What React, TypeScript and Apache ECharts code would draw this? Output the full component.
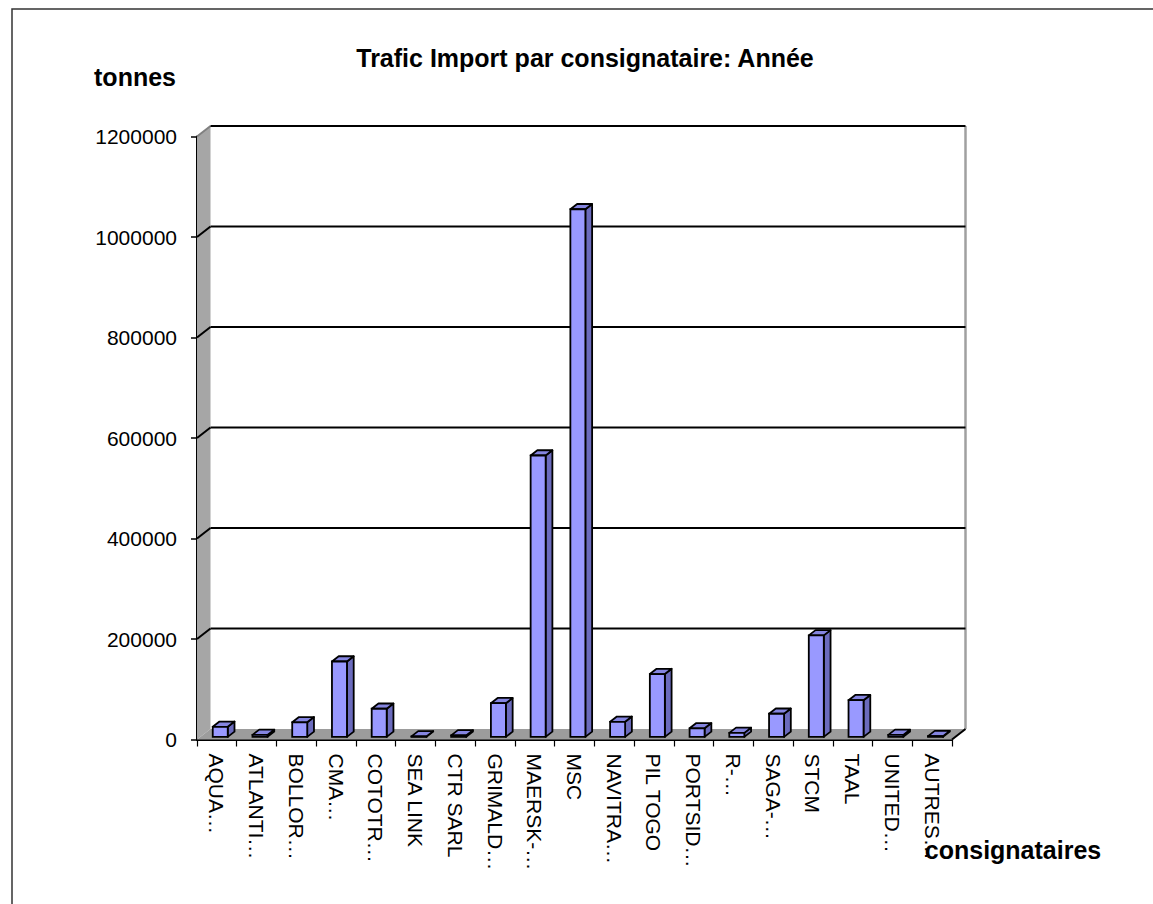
import React, { useEffect, useRef } from "react";
import * as echarts from "echarts";

const categories = [
  "AQUA…",
  "ATLANTI…",
  "BOLLOR…",
  "CMA…",
  "COTOTR…",
  "SEA LINK",
  "CTR SARL",
  "GRIMALD…",
  "MAERSK-…",
  "MSC",
  "NAVITRA…",
  "PIL TOGO",
  "PORTSID…",
  "R-…",
  "SAGA-…",
  "STCM",
  "TAAL",
  "UNITED…",
  "AUTRES…",
];

const values = [
  20000, 4000, 29000, 150000, 56000, 1000, 3000, 67000, 560000, 1050000,
  30000, 125000, 17000, 8000, 46000, 202000, 73000, 4000, 1500,
];

const yTicks = [0, 200000, 400000, 600000, 800000, 1000000, 1200000];

const TITLE = "Trafic Import par consignataire: Année";
const Y_NAME = "tonnes";
const X_NAME = "consignataires";

const DX = 13.5;
const DY = -10.5;

export default function App() {
  const ref = useRef<HTMLDivElement>(null);

  useEffect(() => {
    const chart = echarts.init(ref.current as HTMLDivElement, null, {
      renderer: "svg",
    });
    const font = "'Liberation Sans', Arial, sans-serif";
    const yMax = yTicks[yTicks.length - 1];

    const option: any = {
      animation: false,
      backgroundColor: "#ffffff",
      textStyle: { fontFamily: font },
      grid: { left: 197, top: 136.5, width: 755, height: 603 },
      xAxis: {
        type: "category",
        data: categories,
        boundaryGap: true,
        axisLine: { show: true, lineStyle: { color: "#000", width: 2 } },
        axisTick: {
          show: true,
          interval: 0,
          length: 7,
          lineStyle: { color: "#000", width: 1.2 },
        },
        axisLabel: {
          interval: 0,
          rotate: -90,
          margin: 14,
          fontSize: 21,
          color: "#000",
          fontFamily: font,
        },
        splitLine: { show: false },
      },
      yAxis: {
        type: "value",
        min: 0,
        max: yMax,
        interval: 200000,
        axisLine: { show: true, lineStyle: { color: "#000", width: 2 } },
        axisTick: {
          show: true,
          length: 6,
          lineStyle: { color: "#000", width: 1.5 },
        },
        axisLabel: {
          margin: 20,
          fontSize: 21,
          color: "#000",
          fontFamily: font,
          formatter: (v: number) => String(v),
        },
        splitLine: { show: false },
      },
      graphic: [
        {
          type: "rect",
          shape: { x: 12, y: 9, width: 1400, height: 1200 },
          style: { fill: "none", stroke: "#333", lineWidth: 1.5 },
          silent: true,
          z: -10,
        },
        {
          type: "text",
          x: 585,
          y: 58,
          style: {
            text: TITLE,
            font: `bold 25px ${font}`,
            fill: "#000",
            textAlign: "center",
            textVerticalAlign: "middle",
          },
        },
        {
          type: "text",
          x: 135,
          y: 77,
          style: {
            text: Y_NAME,
            font: `bold 25px ${font}`,
            fill: "#000",
            textAlign: "center",
            textVerticalAlign: "middle",
          },
        },
        {
          type: "text",
          x: 1013,
          y: 850,
          style: {
            text: X_NAME,
            font: `bold 25px ${font}`,
            fill: "#000",
            textAlign: "center",
            textVerticalAlign: "middle",
          },
          z: 100,
        },
      ],
      series: [
        {
          type: "custom",
          name: "walls",
          silent: true,
          clip: false,
          data: [[0, 0]],
          renderItem: (params: any) => {
            const cs = params.coordSys;
            const L = cs.x;
            const R = cs.x + cs.width;
            const T = cs.y;
            const B = cs.y + cs.height;
            return {
              type: "group",
              children: [
                {
                  type: "polygon",
                  shape: {
                    points: [
                      [L, T],
                      [L + DX, T + DY],
                      [L + DX, B + DY],
                      [L, B],
                    ],
                  },
                  style: { fill: "#a6a6a6" },
                },
                {
                  type: "polygon",
                  shape: {
                    points: [
                      [L, B],
                      [R, B],
                      [R + DX, B + DY],
                      [L + DX, B + DY],
                    ],
                  },
                  style: { fill: "#9c9c9c" },
                },
                {
                  type: "line",
                  shape: { x1: R + DX, y1: T + DY, x2: R + DX, y2: B + DY },
                  style: { stroke: "#a0a0a0", lineWidth: 2.5 },
                },
                {
                  type: "line",
                  shape: { x1: R, y1: B, x2: R + DX, y2: B + DY },
                  style: { stroke: "#000", lineWidth: 2 },
                },
              ],
            };
          },
        },
        {
          type: "custom",
          name: "gridlines",
          silent: true,
          clip: false,
          data: yTicks.filter((t) => t > 0).map((t) => [0, t]),
          renderItem: (params: any, api: any) => {
            const cs = params.coordSys;
            const L = cs.x;
            const R = cs.x + cs.width;
            const t = api.value(1);
            const p = api.coord([0, t]);
            const y = p[1];
            const isTop = t >= yMax;
            return {
              type: "group",
              children: [
                {
                  type: "line",
                  shape: { x1: L, y1: y, x2: L + DX, y2: y + DY },
                  style: {
                    stroke: isTop ? "#808080" : "#000",
                    lineWidth: 2,
                  },
                },
                {
                  type: "line",
                  shape: { x1: L + DX, y1: y + DY, x2: R + DX, y2: y + DY },
                  style: { stroke: "#000", lineWidth: 2 },
                },
              ],
            };
          },
        },
        {
          type: "custom",
          name: "tonnes",
          clip: false,
          data: values.map((v, i) => [i, v]),
          renderItem: (params: any, api: any) => {
            const i = api.value(0);
            const v = api.value(1);
            const top = api.coord([i, v]);
            const base = api.coord([i, 0]);
            const fx = DX * 0.25;
            const fy = DY * 0.25;
            const bx = DX * 0.5;
            const by = DY * 0.5;
            const w = 15;
            const x0 = top[0] - w / 2 + fx;
            const x1 = x0 + w;
            const yT = top[1] + fy;
            const yB = base[1] + fy;
            const stroke = "#000";
            const lw = 1.8;
            return {
              type: "group",
              children: [
                {
                  type: "polygon",
                  shape: {
                    points: [
                      [x1, yB],
                      [x1, yT],
                      [x1 + bx, yT + by],
                      [x1 + bx, yB + by],
                    ],
                  },
                  style: { fill: "#6b6bbd", stroke, lineWidth: lw, lineJoin: "round" },
                },
                {
                  type: "polygon",
                  shape: {
                    points: [
                      [x0, yT],
                      [x1, yT],
                      [x1 + bx, yT + by],
                      [x0 + bx, yT + by],
                    ],
                  },
                  style: { fill: "#8585e0", stroke, lineWidth: lw, lineJoin: "round" },
                },
                {
                  type: "rect",
                  shape: { x: x0, y: yT, width: w, height: Math.max(yB - yT, 0.5) },
                  style: { fill: "#9999ff", stroke, lineWidth: lw },
                },
              ],
            };
          },
        },
      ],
    };

    chart.setOption(option);
    return () => {
      chart.dispose();
    };
  }, []);

  return (
    <div
      ref={ref}
      style={{ position: "absolute", left: 0, top: 0, width: 1153, height: 904 }}
    />
  );
}
